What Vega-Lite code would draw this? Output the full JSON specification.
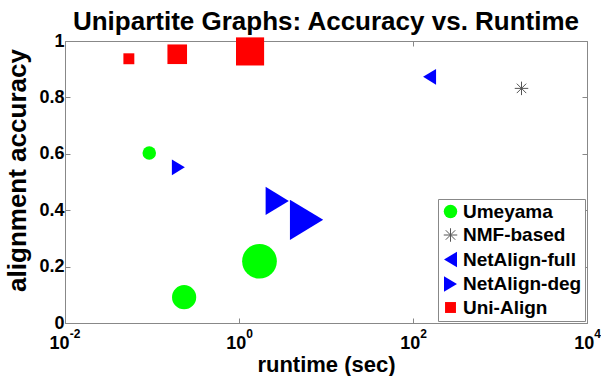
{
  "$schema": "https://vega.github.io/schema/vega-lite/v6.json",
  "width": 522,
  "height": 282,
  "autosize": {"type": "none"},
  "padding": {"left": 65, "top": 41, "right": 14, "bottom": 53},
  "background": "white",
  "config": {
    "font": "Liberation Sans",
    "view": {"stroke": "#888888", "strokeWidth": 1},
    "axis": {"grid": false, "labelFont": "Liberation Sans", "titleFont": "Liberation Sans"}
  },
  "title": {
    "text": "Unipartite Graphs: Accuracy vs. Runtime",
    "fontSize": 26,
    "fontWeight": "bold",
    "font": "Liberation Sans",
    "color": "black",
    "anchor": "middle",
    "frame": "group",
    "baseline": "alphabetic",
    "offset": -24
  },
  "data": {
    "values": [
      {"method": "Umeyama", "runtime": 0.093, "accuracy": 0.603, "graph": 1},
      {"method": "Umeyama", "runtime": 0.234, "accuracy": 0.0915, "graph": 2},
      {"method": "Umeyama", "runtime": 1.72, "accuracy": 0.219, "graph": 3},
      {"method": "NMF-based", "runtime": 1767, "accuracy": 0.832, "graph": 1},
      {"method": "NetAlign-full", "runtime": 155, "accuracy": 0.873, "graph": 1},
      {"method": "NetAlign-deg", "runtime": 0.201, "accuracy": 0.552, "graph": 1},
      {"method": "NetAlign-deg", "runtime": 2.75, "accuracy": 0.433, "graph": 2},
      {"method": "NetAlign-deg", "runtime": 5.98, "accuracy": 0.366, "graph": 3},
      {"method": "Uni-Align", "runtime": 0.0542, "accuracy": 0.937, "graph": 1},
      {"method": "Uni-Align", "runtime": 0.195, "accuracy": 0.953, "graph": 2},
      {"method": "Uni-Align", "runtime": 1.34, "accuracy": 0.963, "graph": 3}
    ]
  },
  "layer": [
    {
      "mark": {"type": "point", "filled": true, "opacity": 1, "strokeWidth": 1},
      "encoding": {
        "x": {
          "field": "runtime",
          "type": "quantitative",
          "scale": {"type": "log", "domain": [0.01, 10000], "nice": false},
          "axis": {
            "orient": "bottom",
            "values": [0.01, 1, 100, 10000],
            "labelExpr": "'10'",
            "labelFontSize": 18,
            "labelFontWeight": "bold",
            "labelColor": "black",
            "labelFlush": false,
            "labelOverlap": false,
            "labelBaseline": "alphabetic",
            "labelAlign": "center",
            "labelOffset": {"condition": {"test": "datum.value < 0.1", "value": -6}, "value": -3.3},
            "labelPadding": 30.3,
            "tickSize": -5,
            "tickColor": "#888888",
            "domainColor": "#888888",
            "title": "runtime (sec)",
            "titleFontSize": 22,
            "titleFontWeight": "bold",
            "titleColor": "black",
            "titlePadding": 2
          }
        },
        "y": {
          "field": "accuracy",
          "type": "quantitative",
          "scale": {"domain": [0, 1], "nice": false, "zero": false},
          "axis": {
            "orient": "left",
            "values": [0, 0.2, 0.4, 0.6, 0.8, 1],
            "format": ".1~f",
            "labelFontSize": 18,
            "labelFontWeight": "bold",
            "labelColor": "black",
            "labelFlush": false,
            "labelOverlap": false,
            "labelPadding": 6,
            "tickSize": -5,
            "tickColor": "#888888",
            "domainColor": "#888888",
            "title": "alignment accuracy",
            "titleFontSize": 26,
            "titleFontWeight": "bold",
            "titleColor": "black",
            "titlePadding": 8,
            "titleY": 129
          }
        },
        "color": {
          "field": "method",
          "type": "nominal",
          "scale": {
            "domain": ["Umeyama", "NMF-based", "NetAlign-full", "NetAlign-deg", "Uni-Align"],
            "range": ["#00ff00", "#666666", "#0000ff", "#0000ff", "#ff0000"]
          },
          "legend": {
            "title": null,
            "orient": "bottom-right",
            "offset": 2,
            "labelFont": "Liberation Sans",
            "labelFontSize": 19,
            "labelFontWeight": "bold",
            "labelColor": "black",
            "labelLimit": 400,
            "labelOffset": 3,
            "symbolSize": 182,
            "symbolStrokeWidth": 1,
            "symbolOpacity": 1,
            "rowPadding": 3.5,
            "padding": 3,
            "strokeColor": "#888888",
            "fillColor": "white"
          }
        },
        "stroke": {
          "field": "method",
          "type": "nominal",
          "scale": {
            "domain": ["Umeyama", "NMF-based", "NetAlign-full", "NetAlign-deg", "Uni-Align"],
            "range": ["transparent", "#555555", "transparent", "transparent", "transparent"]
          }
        },
        "shape": {
          "field": "method",
          "type": "nominal",
          "scale": {
            "domain": ["Umeyama", "NMF-based", "NetAlign-full", "NetAlign-deg", "Uni-Align"],
            "range": [
              "circle",
              "M-1,0L1,0M0,-1L0,1M-0.7,-0.7L0.7,0.7M-0.7,0.7L0.7,-0.7",
              "M-0.96,0L0.96,-1.16L0.96,1.16Z",
              "M0.96,0L-0.96,-1.16L-0.96,1.16Z",
              "M-0.81,-0.81L0.81,-0.81L0.81,0.81L-0.81,0.81Z"
            ]
          }
        },
        "size": {
          "field": "graph",
          "type": "quantitative",
          "scale": {"domain": [1, 2, 3], "range": [182, 586, 1204], "zero": false},
          "legend": null
        }
      }
    },
    {
      "mark": {"type": "point", "opacity": 0},
      "encoding": {
        "x": {
          "field": "runtime",
          "type": "quantitative",
          "axis": {
            "orient": "top",
            "values": [0.01, 1, 100, 10000],
            "labels": false,
            "domain": false,
            "tickSize": -5,
            "tickColor": "#888888",
            "title": null
          }
        },
        "y": {
          "field": "accuracy",
          "type": "quantitative",
          "axis": {
            "orient": "right",
            "values": [0, 0.2, 0.4, 0.6, 0.8, 1],
            "labels": false,
            "domain": false,
            "tickSize": -5,
            "tickColor": "#888888",
            "title": null
          }
        }
      }
    },
    {
      "mark": {"type": "point", "opacity": 0},
      "encoding": {
        "x": {
          "field": "runtime",
          "type": "quantitative",
          "axis": {
            "orient": "bottom",
            "values": [0.01, 1, 100, 10000],
            "labelExpr": "datum.value < 0.1 ? '-2' : datum.value < 10 ? '0' : datum.value < 1000 ? '2' : '4'",
            "labelFontSize": 12,
            "labelFontWeight": "bold",
            "labelColor": "black",
            "labelFlush": false,
            "labelOverlap": false,
            "labelBaseline": "alphabetic",
            "labelAlign": "left",
            "labelOffset": {"condition": {"test": "datum.value < 0.1", "value": 4.3}, "value": 6.7},
            "labelPadding": 19,
            "tickSize": -5,
            "tickOpacity": 0,
            "domain": false,
            "title": null
          }
        },
        "y": {
          "field": "accuracy",
          "type": "quantitative",
          "axis": null
        }
      }
    }
  ],
  "resolve": {"axis": {"x": "independent", "y": "independent"}}
}
